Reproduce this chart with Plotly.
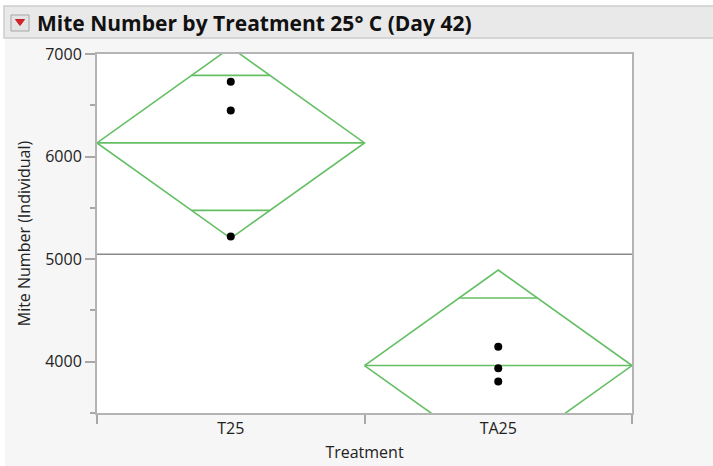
import numpy as np
import plotly.graph_objects as go

# Treatment groups and individual mite counts
categories = ["T25", "TA25"]
mite_t25 = [6730, 6450, 5220]
mite_ta25 = [4146, 3936, 3806]
groups = [mite_t25, mite_ta25]

y_ticks = [4000, 5000, 6000, 7000]
T_CRIT = 2.776  # t(0.975, df=4) for the pooled 95% interval

W, H = 713, 466
L, R, T, B = 97, 81, 54, 53
PW, PH = W - L - R, H - T - B


def px(x):
    return (x - L) / PW


def py(y):
    return (H - B - y) / PH


GREEN = "#64bf64"

# pooled standard deviation across groups
means = [float(np.mean(g)) for g in groups]
ss = sum(float(np.sum((np.array(g) - m) ** 2)) for g, m in zip(groups, means))
n_total = sum(len(g) for g in groups)
pooled_sd = np.sqrt(ss / (n_total - len(groups)))
grand_mean = float(np.mean(np.concatenate([np.array(g) for g in groups])))

fig = go.Figure()

# grand mean reference line
fig.add_trace(go.Scatter(x=[0, len(categories)], y=[grand_mean, grand_mean], mode="lines",
                         line=dict(color="#8a8a8a", width=1.5), hoverinfo="skip", showlegend=False))

for i, (name, g, m) in enumerate(zip(categories, groups, means)):
    ci = T_CRIT * pooled_sd / np.sqrt(len(g))
    x0, xc, x1 = i, i + 0.5, i + 1
    # means diamond
    fig.add_trace(go.Scatter(x=[x0, xc, x1, xc, x0], y=[m, m + ci, m, m - ci, m], mode="lines",
                             line=dict(color=GREEN, width=1.6), hoverinfo="skip", showlegend=False))
    fig.add_trace(go.Scatter(x=[x0, x1], y=[m, m], mode="lines",
                             line=dict(color=GREEN, width=1.6), hoverinfo="skip", showlegend=False))
    # overlap marks
    d = ci / np.sqrt(2)
    hw = 0.5 * (1 - d / ci)
    for s in (1, -1):
        fig.add_trace(go.Scatter(x=[xc - hw, xc + hw], y=[m + s * d, m + s * d], mode="lines",
                                 line=dict(color=GREEN, width=1.6), hoverinfo="skip", showlegend=False))
    # observations
    fig.add_trace(go.Scatter(x=[xc] * len(g), y=g, mode="markers",
                             marker=dict(color="black", size=8), name=name, showlegend=False))

shapes = [
    # white margins around the report panel
    dict(type="rect", xref="paper", yref="paper", x0=px(0), x1=px(W), y0=py(6), y1=py(0),
         fillcolor="white", line=dict(width=0), layer="below"),
    dict(type="rect", xref="paper", yref="paper", x0=px(0), x1=px(5), y0=py(H), y1=py(0),
         fillcolor="white", line=dict(width=0), layer="below"),
    # report header bar
    dict(type="rect", xref="paper", yref="paper", x0=px(4), x1=px(W + 2), y0=py(38), y1=py(6),
         fillcolor="#e9e9e9", line=dict(color="#cdcdcd", width=1.5), layer="below"),
    # disclosure button
    dict(type="rect", xref="paper", yref="paper", x0=px(11), x1=px(29), y0=py(31), y1=py(15),
         fillcolor="#e4e4e4", line=dict(color="#a5a5a5", width=1), layer="above"),
    dict(type="path", xref="paper", yref="paper",
         path=f"M {px(15.5)} {py(19.5)} L {px(24.5)} {py(19.5)} L {px(20)} {py(25.5)} Z",
         fillcolor="#d8232a", line=dict(color="#c01f25", width=1), layer="above"),
]

annotations = [
    dict(text="Mite Number by Treatment 25° C (Day 42)", xref="paper", yref="paper",
         x=px(35), y=py(23), xanchor="left", yanchor="middle", showarrow=False,
         font=dict(family="Open Sans", size=21, color="#111111", weight="bold")),
]

axis_font = dict(family="Open Sans", size=16, color="#222222")

fig.update_layout(
    width=W, height=H,
    margin=dict(l=L, r=R, t=T, b=B, autoexpand=False),
    paper_bgcolor="#f6f6f6", plot_bgcolor="white",
    shapes=shapes, annotations=annotations,
    xaxis=dict(range=[0, len(categories)], tickvals=[i + 0.5 for i in range(len(categories))],
               ticktext=categories, ticks="",
               minor=dict(tickvals=list(range(len(categories) + 1)), ticks="outside", ticklen=9,
                          tickcolor="#a8a8a8", tickwidth=1.5),
               showline=True, linecolor="#b4b4b4", linewidth=2, mirror=True,
               showgrid=False, zeroline=False, tickfont=axis_font,
               title=dict(text="Treatment", font=axis_font, standoff=9)),
    yaxis=dict(range=[3500, 7000], tickvals=y_ticks, ticks="outside", ticklen=10,
               tickcolor="#a8a8a8", tickwidth=1.5,
               minor=dict(dtick=500, tick0=3500, ticks="outside", ticklen=5,
                          tickcolor="#a8a8a8", tickwidth=1.5),
               showline=True, linecolor="#b4b4b4", linewidth=2, mirror=True,
               showgrid=False, zeroline=False, tickfont=axis_font,
               title=dict(text="Mite Number (Individual)", font=dict(family="Open Sans", size=16, color="#222222"),
                          standoff=11)),
)

fig.write_html("out.html")
